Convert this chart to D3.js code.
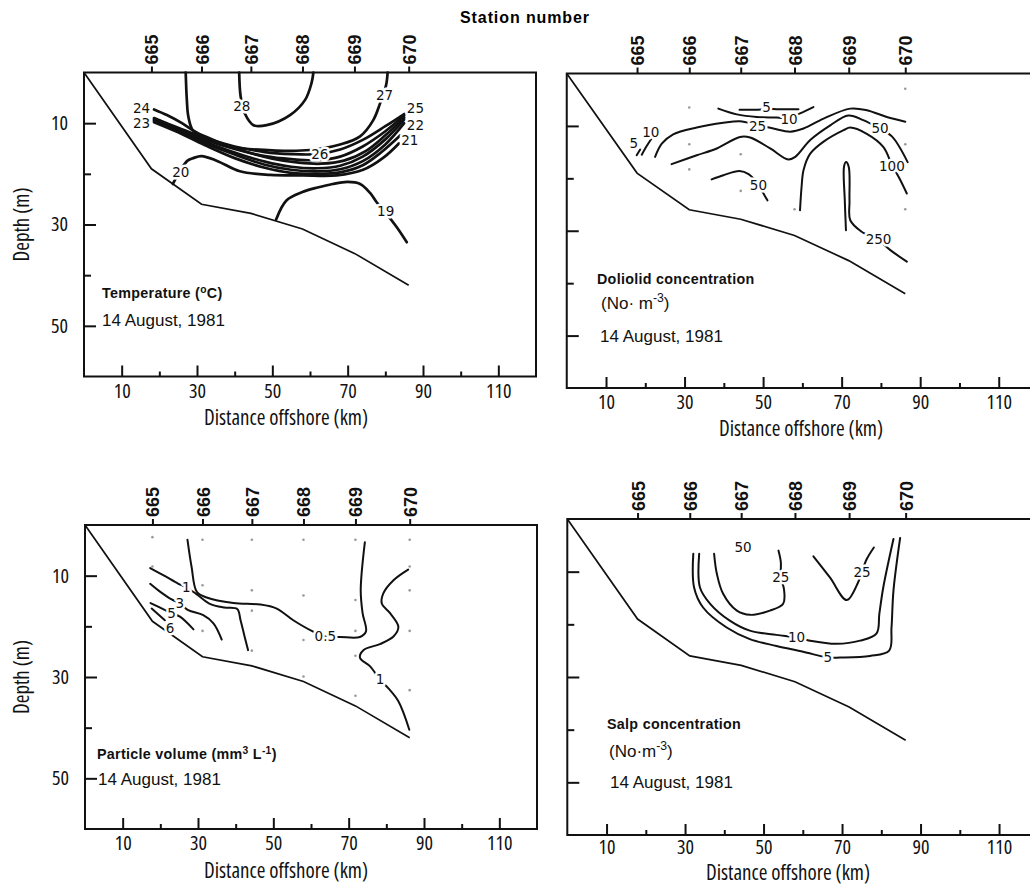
<!DOCTYPE html>
<html>
<head>
<meta charset="utf-8">
<script src="https://cdn.jsdelivr.net/npm/d3@7"></script>
<style>
  body { margin: 0; background: #fff; }
  svg { display: block; }
  .num { font-family: "Open Sans", sans-serif; font-size: 20px; font-stretch: 82%; fill: #111; }
  .stn { font-family: "Liberation Sans", Arial, sans-serif; font-size: 18px; font-weight: bold; fill: #111; }
  .clab { font-family: "DejaVu Sans", sans-serif; font-size: 13.5px; fill: #111;
          stroke: #fff; stroke-width: 5px; paint-order: stroke; stroke-linejoin: round; }
  .note-b { font-family: "Liberation Sans", Arial, sans-serif; font-size: 14.3px; font-weight: bold; letter-spacing: 0.3px; fill: #111; }
  .note { font-family: "Liberation Sans", Arial, sans-serif; font-size: 17px; fill: #111; }
</style>
</head>
<body>
<script>
// stations along the transect
var stations = ['665', '666', '667', '668', '669', '670'];
var stationKm = [17.9, 31.2, 44.3, 58, 71.8, 86.2];

var kmTicks = [10, 30, 50, 70, 90, 110];
var kmMinor = [20, 40, 60, 80, 100];
var depthTicks = [10, 30, 50];
var depthMinor = [20, 40];

// sea floor [km, depth m]
var seabed = [[0, 0], [17.9, 19], [31.2, 26], [44.3, 27.8], [58, 30.9], [71.8, 35.7], [86.2, 42]];

// temperature isotherms
var temp28 = [[41.2, 0], [41.6, 4.8], [42.7, 8.1], [45, 10.4], [48.5, 10.4], [54.7, 8.4], [58.7, 5.4], [60.4, 2.1], [60.9, 0]];
var temp27 = [[27, 0], [27.3, 5.4], [27.7, 8.7], [28.9, 11.4], [32.6, 13], [39.6, 14.7], [51, 15.4], [60, 15.3], [68, 14.2], [73.3, 12.6], [76.8, 9.4], [78.6, 6.1], [80.2, 2.5], [80.6, 0]];
var temp26 = [[18.6, 9], [25, 10.9], [32, 12.9], [40, 14.6], [48, 15.7], [55, 16.1], [62, 16.1], [68, 15.2], [74, 13.3], [80, 10.6], [85, 8.2]];
var temp25 = [[18.6, 9.2], [25, 11.1], [32, 13.2], [40, 15.1], [48, 16.5], [55, 17.1], [62, 17.3], [68, 16.6], [74, 14.6], [80, 11.6], [85, 8.5]];
var temp24 = [[18.6, 7.3], [22, 8.4], [26, 10], [30, 11.9], [35, 13.5], [42, 15.4], [50, 17], [57, 17.8], [63, 18], [69, 17.4], [75, 15.4], [80, 12.4], [85, 8.9]];
var temp23 = [[18.6, 9.4], [25, 11.4], [32, 13.6], [40, 15.8], [48, 17.6], [55, 18.6], [62, 18.9], [68, 18.4], [74, 16.6], [80, 13.2], [85, 9.3]];
var temp22 = [[18.6, 9.6], [25, 11.6], [32, 13.9], [40, 16.2], [48, 18.2], [55, 19.2], [62, 19.5], [68, 19.1], [74, 17.5], [80, 14.2], [85, 10]];
var temp21 = [[18.6, 9.8], [25, 11.8], [32, 14.3], [40, 16.9], [48, 18.8], [55, 19.8], [62, 20], [68, 19.7], [74, 18.3], [79, 15.7], [84, 12.4]];
var temp20 = [[23.6, 22], [25.5, 19.4], [27.5, 17.4], [29, 16.9], [31.2, 16.5], [35.2, 17.4], [41.4, 19.5], [49.4, 20.2], [58, 20.3], [67.1, 20.3], [74.1, 19.2], [79.5, 16.8], [83.6, 14]];
var temp19 = [[51, 29], [53.8, 25.2], [58, 23.6], [62, 22.7], [66, 22], [70, 21.6], [73.3, 22], [76, 23.8], [77.7, 25.6], [80, 27.6], [83, 30.5], [85.7, 33.5]];

// doliolid isolines (No m-3)
var dol5a = [[44, 6.9], [48, 6.9], [50.9, 6.8], [53.5, 6.8], [59, 6.8]];
var dol10a = [[38.6, 6.7], [43.3, 7.8], [48.4, 8.3], [53.5, 8.4], [56.4, 8.5], [59.4, 7.6], [62.8, 6.4]];
var dol25 = [[22.5, 15.9], [24.2, 13.4], [27.1, 11.6], [33.1, 10.3], [39.9, 9.4], [44.1, 9.1], [48.4, 9.8], [52.6, 10.5], [56.9, 11.1], [60.3, 10.5], [65.4, 8.6], [72.2, 6.7], [76.4, 7], [81.5, 8.3], [86.2, 9.2]];
var dol50a = [[26.7, 17.3], [33.1, 15.6], [38.2, 14.3], [44.1, 12.1], [46.7, 12.2], [51.8, 14.3], [56.4, 16.4], [58.2, 15.9], [62, 12.7], [67.1, 9.9], [71.7, 8], [75.5, 8.9], [79.6, 10.5], [82.8, 12], [86.8, 16.9]];
var dol100 = [[59.4, 26.1], [59.8, 21.6], [60.3, 18.4], [62, 15.3], [65.4, 13], [70.5, 10.8], [72.2, 10.3], [76.4, 11.5], [80.6, 14], [82.8, 17.4], [84.7, 20], [86.6, 22.9]];
var dol250 = [[71.1, 29.9], [70.8, 24.2], [70.6, 17.8], [71.1, 16.9], [71.8, 17.8], [72, 24.2], [72.2, 28], [75.1, 30.2], [79.2, 31.7], [82.4, 33.7], [86.6, 35.9]];
var dol50b = [[36.9, 20.2], [39.9, 19.4], [44, 18.6], [46.3, 19.2], [48.8, 21.2], [50.1, 22.9], [51.1, 24.2]];
var dol5b = [[17.8, 15.6], [18.7, 14.5]];
var dol10b = [[19.1, 15.5], [20.4, 13.8], [21.6, 12.4]];

// particle volume isolines (mm3 L-1)
var par05 = [[27.2, 2.9], [28.3, 8.3], [29.7, 13.2], [32.3, 14.3], [39.4, 15.4], [46.5, 15.7], [50.9, 16.5], [55.3, 18.8], [60.2, 20.9], [63.7, 22], [67.7, 22.1], [73, 22.1], [74.6, 21], [73.7, 17.4], [73.2, 12.9], [74.3, 3.4]];
var par1a = [[17.3, 8.5], [21, 10], [24.8, 11.6], [26.9, 12.3], [29.7, 13.7], [33, 15.5], [37, 16.3], [40.4, 16.6], [41.3, 18.8], [42.3, 21.8], [43.3, 24.7]];
var par1b = [[85.8, 8.8], [81.9, 10.9], [79.2, 13.5], [78.8, 15.5], [81, 17.4], [83.2, 20.1], [81.9, 22], [78.3, 23.5], [73.9, 24.7], [73, 26.2], [75.7, 27.9], [78.3, 30.5], [80.5, 32.2], [83.2, 34.8], [86.1, 40.4]];
var par3 = [[17.3, 11.6], [20, 13.2], [23, 14.7], [25.2, 15.5], [27.4, 16.8], [31.4, 17.8], [34.1, 19.4], [36.3, 22.6]];
var par5 = [[17.4, 15.4], [21, 16.7], [23, 17.4], [25.2, 18.1], [28.8, 20.6]];
var par6 = [[17.7, 16.5], [21.2, 18.8]];

// salp isolines (No m-3)
var salp25a = [[37.4, 6.6], [38.1, 10.4], [39.7, 14.2], [43.2, 17.4], [46.6, 18.2], [51.6, 17.4], [55, 16.1], [55.2, 13.3], [54.4, 11.1], [54.4, 8.2], [53.8, 6]];
var salp25b = [[62.7, 7.1], [66.9, 11.1], [71.2, 15.4], [74.1, 12], [75, 10.1], [76.3, 7.6], [78.1, 5.4]];
var salp10 = [[33.6, 6.6], [33.8, 13], [36.4, 16.1], [41.4, 19.3], [46.5, 21.2], [53.3, 22], [58.4, 22.5], [61.8, 23.1], [68.6, 23.7], [74.6, 23.1], [78.8, 21.7], [79.5, 18], [80.5, 13], [83.1, 3.8]];
var salp5 = [[32.1, 6.6], [32.3, 13], [34.6, 16.8], [40.6, 20.6], [46.5, 22.8], [53.3, 24.1], [60.1, 25.2], [66.4, 26.3], [69.5, 26.3], [77.1, 26], [82, 25], [82.6, 20.6], [83.1, 13.6], [84.8, 3.6]];

// sampling depths [km, depth]
var dolSamples = [[31.2, 6.5], [31.2, 13.5], [31.2, 18.3], [44.3, 15.4], [44.3, 22.4], [58, 25.9], [86.2, 2.9], [86.2, 13.5], [86.2, 25.9]];
var parSamples = [[17.9, 2.4], [17.9, 8.2], [31.2, 2.9], [31.2, 11.9], [31.2, 20.9], [44.3, 2.9], [44.3, 12.9], [44.3, 16.9], [44.3, 24.8],
  [58, 2.9], [58, 13.9], [58, 22.7], [58, 29.9], [71.8, 2.9], [71.8, 14.8], [71.8, 20.9], [71.8, 25.8], [71.8, 33.7],
  [86.2, 2.9], [86.2, 8.2], [86.2, 12.9], [86.2, 20.9], [86.2, 32.6]];

var panels = [
  { x0: 84, x1: 536, y0: 72.5, y1: 376.5, yNums: true, xLab: 286, xLabDy: 41, tickPad: 7, heavy: 2.7,
    lines: [
      { v: '28', pts: temp28, at: [41.9, 6.6] }, { v: '27', pts: temp27, at: [79.8, 4.4] },
      { v: '26', pts: temp26, at: [62.6, 16.1] }, { v: '25', pts: temp25, at: [88, 7.1] },
      { v: '24', pts: temp24, at: [15.3, 7.1] }, { v: '23', pts: temp23, at: [15.3, 9.9] },
      { v: '22', pts: temp22, at: [88, 10.3] }, { v: '21', pts: temp21, at: [86.5, 13.3] },
      { v: '20', pts: temp20, at: [25.7, 19.6] }, { v: '19', pts: temp19, at: [80.1, 27.4] }],
    dots: [],
    notes: [
      { cls: 'note-b', x: 102, y: 297.5, parts: [['Temperature ('], ['o', -5], ['C)']] },
      { cls: 'note', x: 102, y: 326, parts: [['14 August, 1981']] }] },
  { x0: 566.75, x1: 1038, y0: 73.5, y1: 388, yNums: false, xLab: 801, xLabDy: 40, tickPad: 7, heavy: 2,
    lines: [
      { v: '5', pts: dol5a, at: [50.9, 6.4] }, { v: '10', pts: dol10a, at: [56.6, 8.7] },
      { v: '25', pts: dol25, at: [48.6, 10] }, { v: '50', pts: dol50a, at: [79.8, 10.5] },
      { v: '100', pts: dol100, at: [82.8, 17.6] }, { v: '250', pts: dol250, at: [79.4, 31.6] },
      { v: '50', pts: dol50b, at: [48.8, 21.3] }, { v: '5', pts: dol5b, at: [17.1, 13.3] },
      { v: '10', pts: dol10b, at: [21.4, 11.2] }],
    dots: dolSamples,
    notes: [
      { cls: 'note-b', x: 597, y: 283.5, parts: [['Doliolid concentration']] },
      { cls: 'note', x: 601, y: 309, parts: [['(No\u00b7 m'], ['-3', -7], [')']] },
      { cls: 'note', x: 600, y: 341.5, parts: [['14 August, 1981']] }] },
  { x0: 85, x1: 537, y0: 525, y1: 829, yNums: true, xLab: 286, xLabDy: 41.5, tickPad: 7, heavy: 2,
    lines: [
      { v: '0.5', pts: par05, at: [63.8, 22] }, { v: '1', pts: par1a, at: [26.9, 12.2] },
      { v: '1', pts: par1b, at: [78.3, 30.5] }, { v: '3', pts: par3, at: [25.2, 15.5] },
      { v: '5', pts: par5, at: [23, 17.4] }, { v: '6', pts: par6, at: [22.6, 20.3] }],
    dots: parSamples,
    notes: [
      { cls: 'note-b', x: 97, y: 758.5, parts: [['Particle volume (mm'], ['3', -5], [' L'], ['-1', -5], [')']] },
      { cls: 'note', x: 98, y: 784.5, parts: [['14 August, 1981']] }] },
  { x0: 567.3, x1: 1038.3, y0: 519, y1: 835, yNums: false, xLab: 788, xLabDy: 37.5, tickPad: 5, heavy: 2,
    lines: [
      { v: '25', pts: salp25a, at: [54.4, 11.1] }, { v: '25', pts: salp25b, at: [75.1, 10.1] },
      { v: '10', pts: salp10, at: [58.4, 22.5] }, { v: '5', pts: salp5, at: [66.4, 26.3] },
      { v: '50', pts: null, at: [44.8, 5.4] }],
    dots: [],
    notes: [
      { cls: 'note-b', x: 607, y: 729, parts: [['Salp concentration']] },
      { cls: 'note', x: 609, y: 756.5, parts: [['(No\u00b7m'], ['-3', -7], [')']] },
      { cls: 'note', x: 610, y: 787.5, parts: [['14 August, 1981']] }] }
];

var svg = d3.select('body').append('svg').attr('width', 1030).attr('height', 885);

svg.append('text').attr('x', 525).attr('y', 23)
  .attr('text-anchor', 'middle')
  .style('font-family', '"Liberation Sans", Arial, sans-serif')
  .style('font-size', '16px').style('font-weight', 'bold').style('letter-spacing', '0.9px')
  .text('Station number');

panels.forEach(drawPanel);

function drawPanel(p) {
  var x = d3.scaleLinear().domain([0, 120]).range([p.x0, p.x1]);
  var y = d3.scaleLinear().domain([0, 60]).range([p.y0, p.y1]);
  var g = svg.append('g');

  var smooth = d3.line().x(function (d) { return x(d[0]); }).y(function (d) { return y(d[1]); })
    .curve(d3.curveCatmullRom.alpha(0.5));
  var straight = d3.line().x(function (d) { return x(d[0]); }).y(function (d) { return y(d[1]); });

  g.selectAll('circle.dot').data(p.dots).enter().append('circle')
    .attr('cx', function (d) { return x(d[0]); })
    .attr('cy', function (d) { return y(d[1]); })
    .attr('r', 1.3).attr('fill', '#9a9a9a');

  g.append('path').attr('d', straight(seabed))
    .attr('fill', 'none').attr('stroke', '#111').attr('stroke-width', 1.7);

  var withLine = p.lines.filter(function (d) { return d.pts; });
  g.selectAll('path.iso').data(withLine).enter().append('path')
    .attr('class', 'iso')
    .attr('d', function (d) { return smooth(d.pts); })
    .attr('fill', 'none').attr('stroke', '#111').attr('stroke-width', p.heavy)
    .attr('stroke-linecap', 'round');

  g.selectAll('text.clab').data(p.lines).enter().append('text')
    .attr('class', 'clab')
    .attr('x', function (d) { return x(d.at[0]); })
    .attr('y', function (d) { return y(d.at[1]); })
    .attr('dy', '0.36em').attr('text-anchor', 'middle')
    .text(function (d) { return d.v; });

  // frame
  g.append('rect').attr('x', p.x0).attr('y', p.y0)
    .attr('width', p.x1 - p.x0).attr('height', p.y1 - p.y0)
    .attr('fill', 'none').attr('stroke', '#111').attr('stroke-width', 2);

  // bottom axis, ticks pointing in
  var bx = g.append('g').attr('transform', 'translate(0,' + p.y1 + ')')
    .call(d3.axisBottom(x).tickValues(kmTicks).tickSize(-11).tickPadding(p.tickPad).tickFormat(d3.format('d')));
  bx.append('g').call(d3.axisBottom(x).tickValues(kmMinor).tickSize(-5).tickFormat(''));
  styleAxis(bx);
  bx.selectAll('text').attr('class', 'num').attr('dy', '0.7em');

  // left axis
  var fmt = p.yNums ? d3.format('d') : function () { return ''; };
  var ly = g.append('g').attr('transform', 'translate(' + p.x0 + ',0)')
    .call(d3.axisLeft(y).tickValues(depthTicks).tickSize(-12).tickPadding(16).tickFormat(fmt));
  ly.append('g').call(d3.axisLeft(y).tickValues(depthMinor).tickSize(-7).tickFormat(''));
  styleAxis(ly);
  ly.selectAll('text').attr('class', 'num');

  // station axis on top
  var tx = g.append('g').attr('transform', 'translate(0,' + p.y0 + ')')
    .call(d3.axisTop(x).tickValues(stationKm).tickSize(6)
      .tickFormat(function (d, i) { return stations[i]; }));
  styleAxis(tx);
  tx.selectAll('text').attr('class', 'stn')
    .attr('transform', 'rotate(-90)').attr('x', 8).attr('y', 0).attr('dy', '0.36em')
    .style('text-anchor', 'start');

  // axis titles
  g.append('text').attr('class', 'num').attr('x', p.xLab).attr('y', p.y1 + p.xLabDy)
    .attr('dy', '0.36em').attr('text-anchor', 'middle').style('font-size', '21px')
    .text('Distance offshore (km)');
  if (p.yNums) {
    g.append('text').attr('class', 'num').style('font-size', '21px')
      .attr('transform', 'translate(21,' + ((p.y0 + p.y1) / 2) + ') rotate(-90)')
      .attr('dy', '0.36em').attr('text-anchor', 'middle')
      .text('Depth (m)');
  }

  // panel notes
  p.notes.forEach(function (n) {
    var t = g.append('text').attr('class', n.cls).attr('x', n.x).attr('y', n.y);
    var shift = 0;
    n.parts.forEach(function (part) {
      var s = part[1] || 0;
      var ts = t.append('tspan').attr('dy', s - shift).text(part[0]);
      if (s) ts.style('font-size', '72%');
      shift = s;
    });
  });
}

function styleAxis(sel) {
  sel.selectAll('.domain').remove();
  sel.attr('font-family', null).attr('font-size', null);
  sel.selectAll('line').attr('stroke', '#111').attr('stroke-width', 2);
}
</script>
</body>
</html>
